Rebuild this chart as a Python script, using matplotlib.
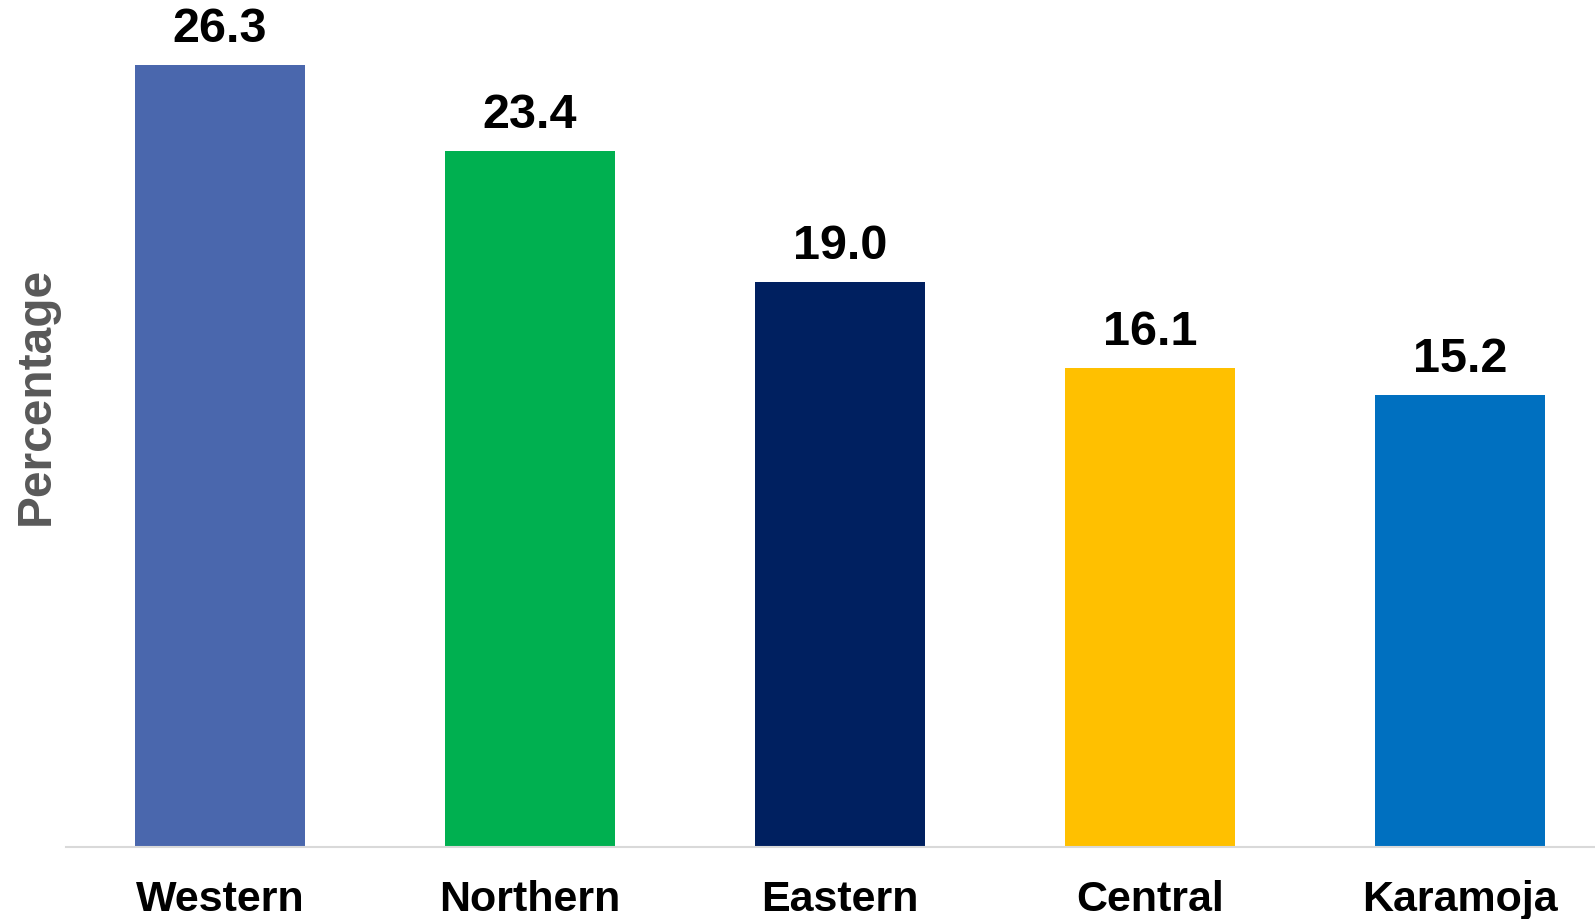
import matplotlib
matplotlib.use("Agg")
import matplotlib.pyplot as plt

regions = ["Western", "Northern", "Eastern", "Central", "Karamoja"]
values = [26.3, 23.4, 19.0, 16.1, 15.2]
colors = ["#4A67AD", "#00B050", "#002060", "#FFC000", "#0070C0"]

plt.rcParams["font.family"] = ["Liberation Sans", "DejaVu Sans"]

fig = plt.figure(figsize=(15.95, 9.2), dpi=100)
ax = fig.add_axes([66 / 1595, 72 / 920, 1 - 66 / 1595, 848 / 920])

x = list(range(len(regions)))
ax.bar(x, values, width=0.55, color=colors, zorder=2)

for xi, v in zip(x, values):
    ax.annotate(f"{v:.1f}", (xi, v), xytext=(0, 10), textcoords="offset points",
                ha="center", va="bottom", fontsize=35, fontweight="bold", color="black")

ax.set_xlim(-0.497, 4.435)
ax.set_ylim(0, 28.52)
ax.set_xticks(x)
ax.set_xticklabels(regions, fontsize=31, fontweight="bold")
ax.tick_params(axis="x", length=0, pad=23)
ax.set_yticks([])

for side in ["top", "right", "left"]:
    ax.spines[side].set_visible(False)
ax.spines["bottom"].set_color("#D9D9D9")
ax.spines["bottom"].set_linewidth(1.5)

fig.text(36 / 1595, 524 / 920, "Percentage", rotation=90, ha="center", va="center",
         fontsize=34.5, fontweight="bold", color="#595959")

fig.savefig("out.png", dpi=100)
